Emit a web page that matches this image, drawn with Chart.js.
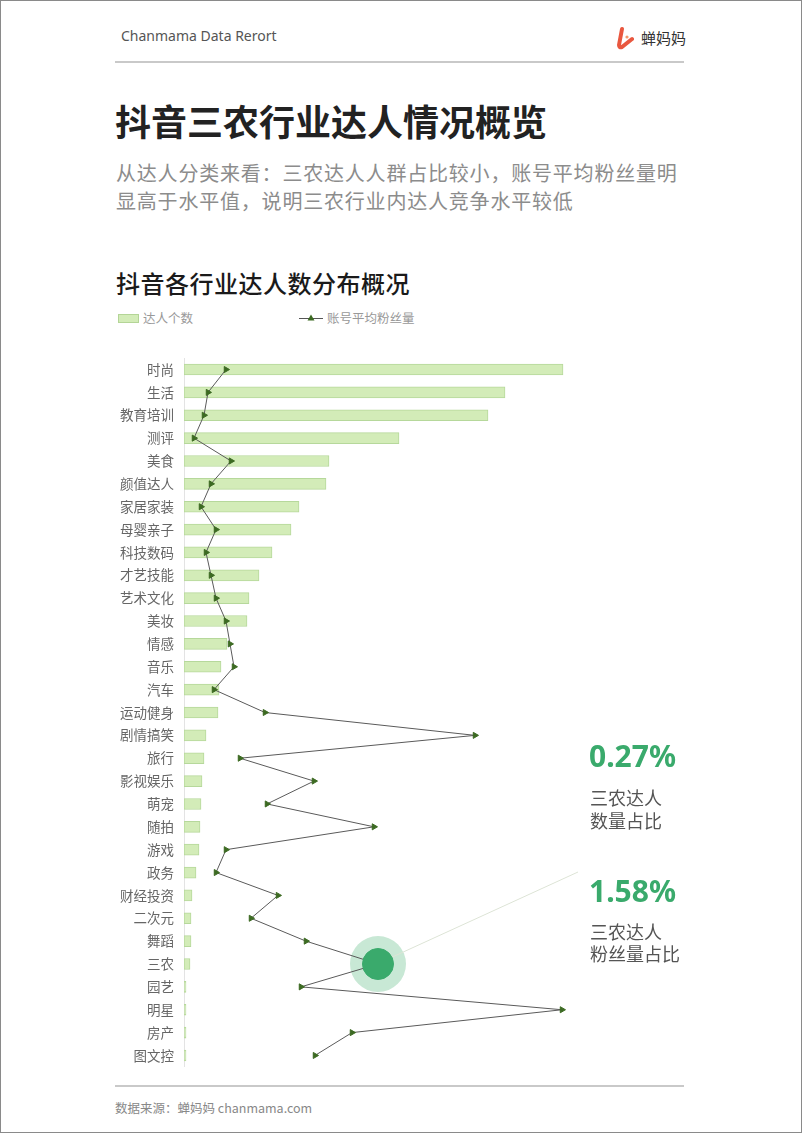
<!DOCTYPE html>
<html lang="zh-CN">
<head>
<meta charset="utf-8">
<title>抖音三农行业达人情况概览</title>
<script src="https://cdn.jsdelivr.net/npm/chart.js@4"></script>
<style>
  html, body { margin: 0; padding: 0; background: #fff; }
  body { width: 802px; height: 1133px; position: relative; overflow: hidden; font-family: "Noto Sans CJK SC", "Noto Sans", sans-serif; }
  .frame { position: absolute; left: 0; top: 0; right: 0; bottom: 0; border: 1px solid #8a8a8a; pointer-events: none; }
  .abs { position: absolute; white-space: nowrap; }
  .brand { left: 121px; top: 26px; font: 14px/20px "Noto Sans", sans-serif; color: #555; }
  .logo-text { left: 641px; top: 28px; font-size: 15px; line-height: 20px; color: #333; }
  .rule { left: 115px; width: 569px; height: 1.5px; background: #c9c9c9; }
  .title { left: 115px; top: 98px; font-size: 36px; line-height: 44px; font-weight: 700; color: #222; }
  .subtitle { left: 116px; top: 159px; font-size: 20px; line-height: 28px; color: #8c8c8c; letter-spacing: 0.8px; }
  .chart-title { left: 116px; top: 267px; font-size: 24px; line-height: 32px; font-weight: 500; color: #1a1a1a; letter-spacing: 0.5px; }
  .legend-text { top: 310px; font-size: 12.5px; line-height: 16px; color: #999; }
  .legend-box { left: 118px; top: 314px; width: 19px; height: 7px; background: #d3ecb8; border: 1px solid #b4d597; }
  .big { left: 589px; font: 700 30px/36px "Noto Sans", sans-serif; color: #3aaa6c; }
  .note { left: 590px; font-size: 18px; color: #555; }
  .source { left: 115px; top: 1100px; font-size: 12.5px; line-height: 16px; color: #888; }
  #chartWrap { position: absolute; left: 100px; top: 340px; width: 500px; height: 745px; }
</style>
</head>
<body>
<div class="abs brand">Chanmama Data Rerort</div>
<svg class="abs" style="left:616px;top:26px" width="18" height="24" viewBox="0 0 18 24">
  <path d="M6 3 L3 19 Q3 22 6 21 L16 13" fill="none" stroke="#e9573f" stroke-width="4" stroke-linecap="round" stroke-linejoin="round"/>
  <circle cx="11" cy="11" r="1.6" fill="#f39a6b"/>
</svg>
<div class="abs logo-text">蝉妈妈</div>
<div class="abs rule" style="top:61px"></div>

<div class="abs title">抖音三农行业达人情况概览</div>
<div class="abs subtitle">从达人分类来看：三农达人人群占比较小，账号平均粉丝量明<br>显高于水平值，说明三农行业内达人竞争水平较低</div>

<div class="abs chart-title">抖音各行业达人数分布概况</div>
<div class="abs legend-box"></div>
<div class="abs legend-text" style="left:143px">达人个数</div>
<svg class="abs" style="left:299px;top:312px" width="24" height="12" viewBox="0 0 24 12">
  <line x1="0" y1="6.5" x2="24" y2="6.5" stroke="#555" stroke-width="1"/>
  <path d="M12 2.5 L15.5 8.5 L8.5 8.5 Z" fill="#3c6a22"/>
</svg>
<div class="abs legend-text" style="left:327px">账号平均粉丝量</div>

<div id="chartWrap"><canvas id="industryChart" width="500" height="745"></canvas></div>

<div class="abs big" style="top:738px">0.27%</div>
<div class="abs note" style="top:786px;line-height:23px">三农达人<br>数量占比</div>
<div class="abs big" style="top:873px">1.58%</div>
<div class="abs note" style="top:920px;line-height:22px">三农达人<br>粉丝量占比</div>

<div class="abs rule" style="top:1085px"></div>
<div class="abs source">数据来源：蝉妈妈 chanmama.com</div>
<div class="frame"></div>

<script>
// categories, top to bottom
const categories = ['时尚', '生活', '教育培训', '测评', '美食', '颜值达人', '家居家装', '母婴亲子',
    '科技数码', '才艺技能', '艺术文化', '美妆', '情感', '音乐', '汽车', '运动健身', '剧情搞笑',
    '旅行', '影视娱乐', '萌宠', '随拍', '游戏', '政务', '财经投资', '二次元', '舞蹈', '三农',
    '园艺', '明星', '房产', '图文控'];

// 达人个数 (relative)
const talentCount = [379, 321, 304, 215, 145, 142, 115, 107, 88, 75, 65, 63, 43, 37, 35, 34, 22,
    20, 18, 17, 16, 15, 12, 8, 7, 7, 6, 2, 2, 2, 2];

// 账号平均粉丝量 (relative)
const avgFans = [42, 24, 20, 10, 47, 27, 17, 32, 22, 27, 32, 42, 46, 50, 30, 81, 291,
    56, 130, 83, 190, 42, 32, 94, 67, 122, 194, 117, 378, 168, 131];

const highlightIndex = categories.indexOf('三农');
const axisMax = 416;
const labelFont = "'Noto Sans CJK SC', sans-serif";

// halo + leader line behind the 三农 point
const highlightPlugin = {
    id: 'highlight',
    beforeDatasetsDraw(chart) {
        const pt = chart.getDatasetMeta(1).data[highlightIndex];
        if (!pt) return;
        const ctx = chart.ctx;
        ctx.save();
        ctx.fillStyle = '#c8e8d5';
        ctx.beginPath();
        ctx.arc(pt.x, pt.y, 28, 0, Math.PI * 2);
        ctx.fill();
        ctx.strokeStyle = '#dde4d6';
        ctx.lineWidth = 1;
        ctx.beginPath();
        ctx.moveTo(pt.x + 10, pt.y - 5);
        ctx.lineTo(pt.x + 200, pt.y - 92);
        ctx.stroke();
        ctx.restore();
    }
};

const isHi = c => c.dataIndex === highlightIndex;

new Chart(document.getElementById('industryChart'), {
    data: {
        labels: categories,
        datasets: [{
            type: 'bar',
            label: '达人个数',
            data: talentCount,
            xAxisID: 'x',
            backgroundColor: '#d3ecb8',
            borderColor: '#b6d89b',
            borderWidth: 1,
            borderSkipped: false,
            barThickness: 11,
            order: 2
        }, {
            type: 'line',
            label: '账号平均粉丝量',
            data: avgFans,
            xAxisID: 'x2',
            borderColor: '#5a5a5a',
            borderWidth: 1,
            tension: 0,
            order: 1,
            pointStyle: c => isHi(c) ? 'circle' : 'triangle',
            rotation: 90,
            pointRadius: c => isHi(c) ? 15.5 : 3.5,
            pointBackgroundColor: c => isHi(c) ? '#3aaa6c' : '#3c6a22',
            pointBorderColor: c => isHi(c) ? '#3aaa6c' : '#3c6a22',
            pointBorderWidth: 1
        }]
    },
    options: {
        responsive: false,
        animation: false,
        indexAxis: 'y',
        layout: { padding: 0, autoPadding: false },
        plugins: {
            legend: { display: false },
            tooltip: { enabled: false }
        },
        scales: {
            x: { display: false, min: 0, max: axisMax },
            x2: { display: false, min: 0, max: axisMax, position: 'top' },
            y: {
                grid: { display: false, drawTicks: false },
                border: { display: true, color: '#e3e3e3' },
                ticks: {
                    color: '#666',
                    autoSkip: false,
                    padding: 10,
                    font: { family: labelFont, size: 13.5 }
                },
                afterFit(scale) { scale.width = 84; }
            }
        }
    },
    plugins: [highlightPlugin]
});
</script>
</body>
</html>
